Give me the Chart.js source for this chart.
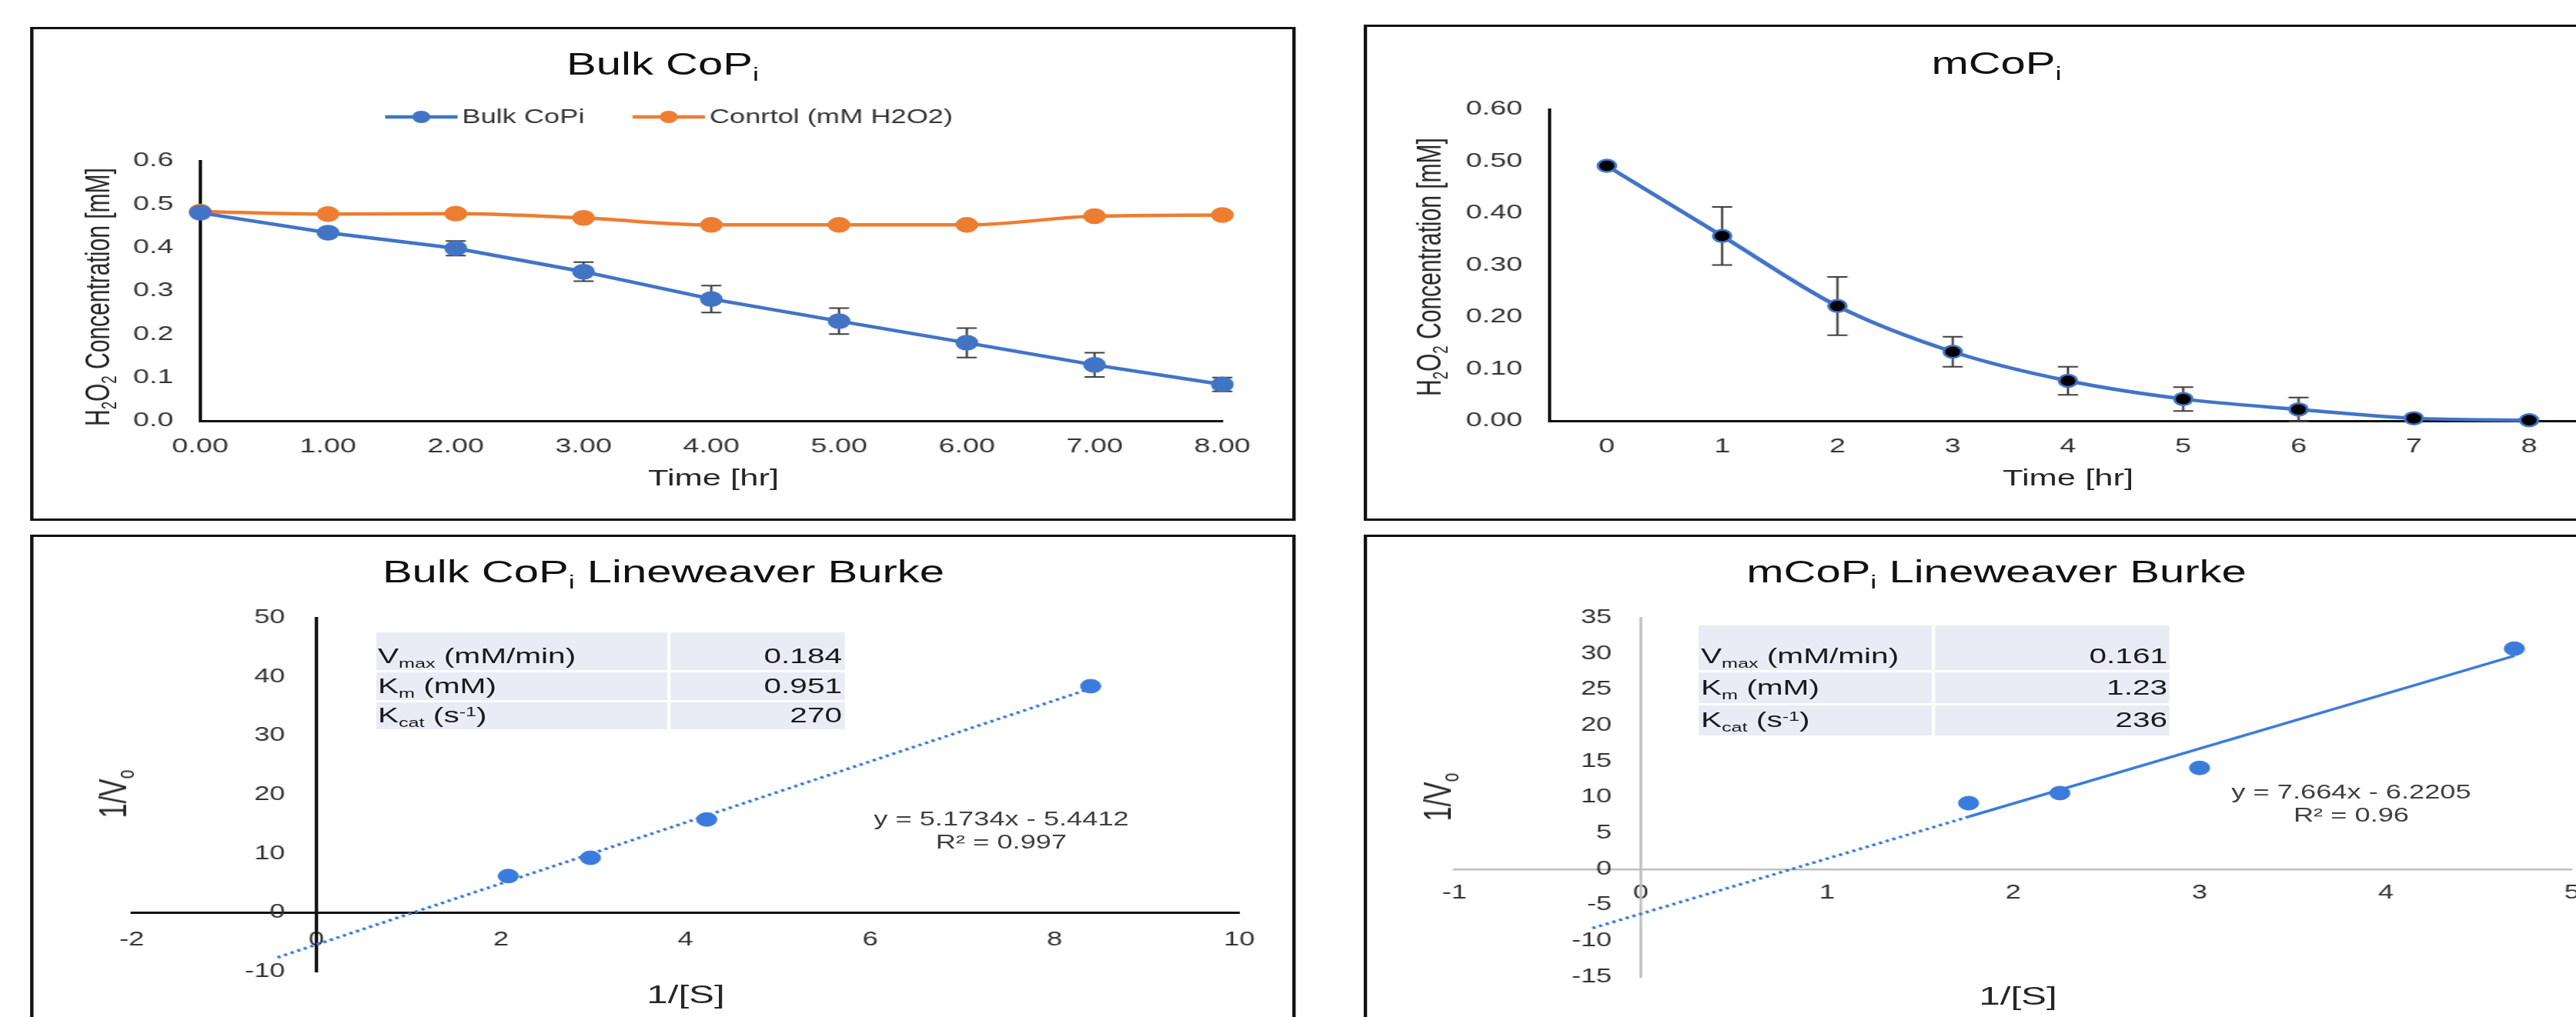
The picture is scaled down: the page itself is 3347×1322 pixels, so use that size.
<!DOCTYPE html>
<html lang="en">
<head>
<meta charset="UTF-8">
<title>CoPi H2O2 decomposition</title>
<script src="https://cdn.jsdelivr.net/npm/chart.js"></script>
<style>
  html, body { margin: 0; padding: 0; background: #fff; overflow: hidden; width: 3347px; height: 1322px; }
  #stage { position: absolute; left: 0; top: 0; height: 1322px; transform-origin: 0 0;
           font-family: 'Liberation Sans', Arial, sans-serif; color: #262626; }
  .panel { position: absolute; border: 3px solid #111; background: #fff; }
  .panel canvas { position: absolute; left: 0; top: 0; }
  .lbl { position: absolute; white-space: nowrap; line-height: 1; transform: translate(-50%, -50%); }
  .rot { transform: translate(-50%, -50%) rotate(-90deg); }
  .title { font-size: 40px; color: #111; }
  .axt { font-size: 30px; }
  .axt-lb { font-size: 34px; }
  .eq { font-size: 25px; color: #404040; text-align: center; line-height: 30px; }
  sub { font-size: 0.62em; line-height: 0; vertical-align: -0.32em; }
  sup { font-size: 0.62em; line-height: 0; vertical-align: 0.45em; }
  .kin { position: absolute; display: grid; column-gap: 3px; row-gap: 3px; font-size: 28px; color: #1a1a1a; }
  .cell { background: #e9ebf5; display: flex; align-items: center; padding: 0 2px; white-space: nowrap; line-height: 1; }
  .cell.first { align-items: flex-end; padding-bottom: 4px; }
  .cell.num { justify-content: flex-end; }
</style>
</head>
<body>
<div id="stage">
  <div id="panels"></div>

  <!-- titles -->
  <div class="lbl title" data-x="861" data-y="83">Bulk CoP<sub>i</sub></div>
  <div class="lbl title" data-x="2594" data-y="82">mCoP<sub>i</sub></div>
  <div class="lbl title" data-x="862" data-y="743">Bulk CoP<sub>i</sub> Lineweaver Burke</div>
  <div class="lbl title" data-x="2594" data-y="743">mCoP<sub>i</sub> Lineweaver Burke</div>

  <!-- axis titles -->
  <div class="lbl axt" data-x="927" data-y="621">Time [hr]</div>
  <div class="lbl axt" data-x="2687" data-y="621">Time [hr]</div>
  <div class="lbl axt rot" data-x="128" data-y="386">H<sub>2</sub>O<sub>2</sub> Concentration [mM]</div>
  <div class="lbl axt rot" data-x="1858" data-y="347">H<sub>2</sub>O<sub>2</sub> Concentration [mM]</div>
  <div class="lbl axt-lb" data-x="891" data-y="1292">1/[S]</div>
  <div class="lbl axt-lb" data-x="2622" data-y="1294">1/[S]</div>
  <div class="lbl axt-lb rot" data-x="146" data-y="1032">1/V<sub>o</sub></div>
  <div class="lbl axt-lb rot" data-x="1868" data-y="1036">1/V<sub>o</sub></div>

  <!-- trendline equations -->
  <div class="lbl eq" id="eqBulk" data-x="1301" data-y="1079"></div>
  <div class="lbl eq" id="eqM" data-x="3055" data-y="1044"></div>
</div>

<script>
  // horizontal stretch of the original picture
  const S = 1.45;
  const FONT = "'Liberation Sans', Arial, sans-serif";

  // ---- data ----
  const hours = [0, 1, 2, 3, 4, 5, 6, 7, 8];
  const bulkConc = [0.480, 0.434, 0.398, 0.344, 0.281, 0.230, 0.180, 0.129, 0.084];
  const bulkErr = [0, 0, 0.017, 0.022, 0.031, 0.030, 0.034, 0.028, 0.016];
  const controlConc = [0.483, 0.477, 0.478, 0.468, 0.452, 0.452, 0.452, 0.472, 0.475];

  const mHourLabels = ['0', '1', '2', '3', '4', '5', '6', '7', '8'];
  const mConc = [0.491, 0.356, 0.221, 0.133, 0.077, 0.042, 0.022, 0.005, 0.001];
  const mErr = [0, 0.056, 0.056, 0.029, 0.027, 0.023, 0.023, 0, 0];

  const bulkInvS = [2.08, 2.97, 4.23, 8.39];
  const bulkInvV = [6.2, 9.3, 15.8, 38.4];
  const bulkFitX = [-0.42, 8.39];
  const bulkFitY = [-7.6, 38.0];
  const bulkEquation = ['y = 5.1734x - 5.4412', 'R² = 0.997'];

  const mInvS = [1.76, 2.25, 3.0, 4.69];
  const mInvV = [9.2, 10.6, 14.1, 30.7];
  const mFitX = [1.76, 4.69];
  const mFitY = [7.3, 29.7];
  const mBackX = [-0.26, 1.76];
  const mBackY = [-8.2, 7.3];
  const mEquation = ['y = 7.664x - 6.2205', 'R² = 0.96'];

  const kinLabels = ['V<sub>max</sub> (mM/min)', 'K<sub>m</sub> (mM)', 'K<sub>cat</sub> (s<sup>-1</sup>)'];
  const bulkKin = ['0.184', '0.951', '270'];
  const mKin = ['0.161', '1.23', '236'];

  // ---- colours ----
  const LINE_BLUE = '#4274c6';
  const DOT_BLUE = '#3b7bdb';
  const ORANGE = '#ed7d31';
  const TICK = '#333333';

  // ---- layout, in pixels of the original picture ----
  const panels = {
    tl: { x: 39, y: 35, w: 1645, h: 642, area: { l: 260, t: 209, r: 1588, b: 547 } },
    tr: { x: 1772, y: 32, w: 1645, h: 645, area: { l: 2013, t: 142, r: 3361, b: 547 } },
    bl: { x: 39, y: 695, w: 1645, h: 642, area: { l: 171, t: 803, r: 1610, b: 1263 } },
    br: { x: 1772, y: 695, w: 1645, h: 642, area: { l: 1890, t: 803, r: 3342, b: 1270 } }
  };

  const stage = document.getElementById('stage');
  stage.style.width = (3347 / S) + 'px';
  stage.style.transform = 'scaleX(' + S + ')';

  document.querySelectorAll('.lbl').forEach(el => {
    el.style.left = (+el.dataset.x / S) + 'px';
    el.style.top = (+el.dataset.y) + 'px';
  });
  document.getElementById('eqBulk').innerHTML = bulkEquation.join('<br>');
  document.getElementById('eqM').innerHTML = mEquation.join('<br>');

  function makePanel(key) {
    const p = panels[key];
    const div = document.createElement('div');
    div.className = 'panel';
    div.style.left = (p.x / S) + 'px';
    div.style.top = p.y + 'px';
    div.style.width = (p.w / S - 6) + 'px';
    div.style.height = (p.h - 6) + 'px';
    const c = document.createElement('canvas');
    c.width = Math.round(p.w / S - 6);
    c.height = p.h - 6;
    div.appendChild(c);
    document.getElementById('panels').appendChild(div);
    p.cx = xr => (xr - p.x) / S - 3;
    p.cy = yr => yr - p.y - 3;
    p.canvas = c;
    return p;
  }

  function kinTable(box, values) {
    const t = document.createElement('div');
    t.className = 'kin';
    t.style.left = (box.l / S) + 'px';
    t.style.top = box.t + 'px';
    t.style.width = ((box.r - box.l) / S) + 'px';
    t.style.height = (box.b - box.t) + 'px';
    t.style.gridTemplateColumns = ((box.split - box.l) / S - 1.5) + 'px 1fr';
    t.style.gridTemplateRows = (box.rows[0] - box.t - 1.5) + 'px ' + (box.rows[1] - box.rows[0] - 3) + 'px 1fr';
    kinLabels.forEach((lab, i) => {
      const a = document.createElement('div');
      a.className = 'cell' + (i === 0 ? ' first' : '');
      a.innerHTML = '<span>' + lab + '</span>';
      const b = document.createElement('div');
      b.className = 'cell num' + (i === 0 ? ' first' : '');
      b.innerHTML = '<span>' + values[i] + '</span>';
      t.appendChild(a);
      t.appendChild(b);
    });
    stage.appendChild(t);
  }
  kinTable({ l: 488, r: 1097, split: 869, t: 822, rows: [872, 911], b: 948 }, bulkKin);
  kinTable({ l: 2207, r: 2819, split: 2512, t: 813, rows: [872, 915], b: 956 }, mKin);

  // vertical error bars, drawn under the lines and markers
  const errorBars = {
    id: 'errorBars',
    beforeDatasetsDraw(chart) {
      const ctx = chart.ctx;
      const yScale = chart.scales.y;
      chart.data.datasets.forEach((ds, i) => {
        if (!ds.errors) return;
        const meta = chart.getDatasetMeta(i);
        ctx.save();
        ctx.strokeStyle = '#404040';
        ctx.lineWidth = 2;
        meta.data.forEach((pt, j) => {
          const e = ds.errors[j];
          if (!e) return;
          const d = ds.data[j];
          const v = typeof d === 'object' ? d.y : d;
          const top = yScale.getPixelForValue(v + e);
          const bot = yScale.getPixelForValue(v - e);
          const cap = 9;
          ctx.beginPath();
          ctx.moveTo(pt.x, top); ctx.lineTo(pt.x, bot);
          ctx.moveTo(pt.x - cap, top); ctx.lineTo(pt.x + cap, top);
          ctx.moveTo(pt.x - cap, bot); ctx.lineTo(pt.x + cap, bot);
          ctx.stroke();
        });
        ctx.restore();
      });
    }
  };

  // excel style legend: short line with a marker, then the label
  const lineLegend = {
    id: 'lineLegend',
    afterDraw(chart, args, opts) {
      const ctx = chart.ctx;
      ctx.save();
      ctx.font = opts.size + 'px ' + FONT;
      const items = chart.data.datasets.map(ds => ({ ds, w: ctx.measureText(ds.label).width }));
      const total = items.reduce((a, it) => a + opts.sample + opts.gap + it.w, 0) + opts.itemGap * (items.length - 1);
      let x = opts.cx - total / 2;
      items.forEach(it => {
        const ds = it.ds;
        ctx.strokeStyle = ds.borderColor;
        ctx.lineWidth = ds.borderWidth;
        ctx.beginPath();
        ctx.moveTo(x, opts.y);
        ctx.lineTo(x + opts.sample, opts.y);
        ctx.stroke();
        ctx.fillStyle = ds.pointBackgroundColor;
        ctx.beginPath();
        ctx.arc(x + opts.sample / 2, opts.y, ds.pointRadius, 0, Math.PI * 2);
        ctx.fill();
        ctx.fillStyle = TICK;
        ctx.textAlign = 'left';
        ctx.textBaseline = 'middle';
        ctx.fillText(ds.label, x + opts.sample + opts.gap, opts.y + 1);
        x += opts.sample + opts.gap + it.w + opts.itemGap;
      });
      ctx.restore();
    }
  };

  // y tick labels that sit next to an axis crossing at x = 0
  const crossYLabels = {
    id: 'crossYLabels',
    afterDraw(chart, args, opts) {
      const { ctx, scales: { x, y } } = chart;
      const x0 = x.getPixelForValue(0);
      ctx.save();
      ctx.font = opts.size + 'px ' + FONT;
      ctx.fillStyle = TICK;
      ctx.textAlign = 'right';
      ctx.textBaseline = 'middle';
      y.ticks.forEach(t => ctx.fillText(t.label, x0 - opts.gap, y.getPixelForValue(t.value)));
      ctx.restore();
    }
  };

  function tickFont(size) {
    return { family: FONT, size: size };
  }

  // ---- Bulk CoPi time course ----
  const tl = makePanel('tl');
  new Chart(tl.canvas, {
    type: 'line',
    data: {
      datasets: [
        {
          label: 'Bulk CoPi',
          data: hours.map((h, i) => ({ x: h, y: bulkConc[i] })),
          errors: bulkErr,
          borderColor: LINE_BLUE, backgroundColor: LINE_BLUE,
          pointBackgroundColor: LINE_BLUE, pointBorderColor: LINE_BLUE,
          pointRadius: 8, borderWidth: 4.5, tension: 0, clip: false
        },
        {
          label: 'Conrtol (mM H2O2)',
          data: hours.map((h, i) => ({ x: h, y: controlConc[i] })),
          borderColor: ORANGE, backgroundColor: ORANGE,
          pointBackgroundColor: ORANGE, pointBorderColor: ORANGE,
          pointRadius: 8, borderWidth: 4.5, cubicInterpolationMode: 'monotone', clip: false
        }
      ]
    },
    options: {
      responsive: false,
      animation: false,
      layout: { padding: { top: tl.cy(tl.area.t), right: tl.canvas.width - tl.cx(tl.area.r), left: 0, bottom: 0 } },
      plugins: {
        legend: { display: false },
        tooltip: { enabled: false },
        lineLegend: { cx: tl.cx(869), y: tl.cy(152), size: 25, sample: 65, gap: 4, itemGap: 43 }
      },
      scales: {
        x: {
          type: 'linear', min: 0, max: 8,
          afterFit: s => { s.height = tl.canvas.height - tl.cy(tl.area.b); },
          grid: { display: false, drawTicks: false },
          border: { display: true, color: '#111', width: 3 },
          ticks: { stepSize: 1, padding: 18, color: TICK, font: tickFont(26), maxRotation: 0, autoSkip: false,
                   callback: v => v.toFixed(2) }
        },
        y: {
          min: 0, max: 0.6,
          afterFit: s => { s.width = tl.cx(tl.area.l); },
          grid: { display: false, drawTicks: false },
          border: { display: true, color: '#111', width: 3 },
          ticks: { stepSize: 0.1, padding: 24, color: TICK, font: tickFont(26), callback: v => v.toFixed(1) }
        }
      }
    },
    plugins: [errorBars, lineLegend]
  });

  // ---- mCoPi time course ----
  const tr = makePanel('tr');
  new Chart(tr.canvas, {
    type: 'line',
    data: {
      labels: mHourLabels,
      datasets: [{
        label: 'mCoPi',
        data: mConc,
        errors: mErr,
        borderColor: LINE_BLUE,
        pointBackgroundColor: '#000', pointBorderColor: LINE_BLUE, pointBorderWidth: 2.5,
        pointRadius: 8, borderWidth: 4.5, cubicInterpolationMode: 'monotone', clip: false
      }]
    },
    options: {
      responsive: false,
      animation: false,
      layout: { padding: { top: tr.cy(tr.area.t), right: tr.canvas.width - tr.cx(tr.area.r), left: 0, bottom: 0 } },
      plugins: { legend: { display: false }, tooltip: { enabled: false } },
      scales: {
        x: {
          type: 'category', offset: true,
          afterFit: s => { s.height = tr.canvas.height - tr.cy(tr.area.b); },
          grid: { display: false, drawTicks: false },
          border: { display: true, color: '#111', width: 3 },
          ticks: { padding: 18, color: TICK, font: tickFont(26), maxRotation: 0, autoSkip: false }
        },
        y: {
          min: 0, max: 0.6,
          afterFit: s => { s.width = tr.cx(tr.area.l); },
          grid: { display: false, drawTicks: false },
          border: { display: true, color: '#111', width: 3 },
          ticks: { stepSize: 0.1, padding: 24, color: TICK, font: tickFont(26), callback: v => v.toFixed(2) }
        }
      }
    },
    plugins: [errorBars]
  });

  // ---- Lineweaver Burke plots, axes crossing at the origin ----
  function crossPadding(p) {
    const a = p.area;
    return {
      left: p.cx(a.l), top: p.cy(a.t),
      right: p.canvas.width - p.cx(a.r), bottom: p.canvas.height - p.cy(a.b)
    };
  }

  function crossScales(xr, yr, axisColor, axisWidth, xPad) {
    return {
      x: {
        type: 'linear', min: xr[0], max: xr[1], position: { y: 0 },
        afterFit: s => { s.height = 0; },
        grid: { display: false, drawTicks: false },
        border: { display: true, color: axisColor, width: axisWidth },
        ticks: { stepSize: xr[2], padding: xPad, color: TICK, font: tickFont(25), maxRotation: 0, autoSkip: false }
      },
      y: {
        type: 'linear', min: yr[0], max: yr[1], position: { x: 0 },
        afterFit: s => { s.width = 0; },
        grid: { display: false, drawTicks: false },
        border: { display: true, color: axisColor, width: axisWidth },
        ticks: { stepSize: yr[2], display: false }
      }
    };
  }

  const bl = makePanel('bl');
  new Chart(bl.canvas, {
    type: 'scatter',
    data: {
      datasets: [
        {
          label: 'Bulk CoPi',
          data: bulkInvS.map((x, i) => ({ x: x, y: bulkInvV[i] })),
          backgroundColor: DOT_BLUE, borderColor: DOT_BLUE, pointRadius: 9, clip: false
        },
        {
          label: 'Linear fit',
          data: bulkFitX.map((x, i) => ({ x: x, y: bulkFitY[i] })),
          showLine: true, pointRadius: 0, borderColor: DOT_BLUE, borderWidth: 3.5,
          borderDash: [3, 3.5], clip: false
        }
      ]
    },
    options: {
      responsive: false,
      animation: false,
      layout: { padding: crossPadding(bl) },
      plugins: { legend: { display: false }, tooltip: { enabled: false }, crossYLabels: { gap: 28, size: 25 } },
      scales: crossScales([-2, 10, 2], [-10, 50, 10], '#111', 3, 21)
    },
    plugins: [crossYLabels]
  });

  const br = makePanel('br');
  new Chart(br.canvas, {
    type: 'scatter',
    data: {
      datasets: [
        {
          label: 'mCoPi',
          data: mInvS.map((x, i) => ({ x: x, y: mInvV[i] })),
          backgroundColor: DOT_BLUE, borderColor: DOT_BLUE, pointRadius: 9, clip: false
        },
        {
          label: 'Linear fit',
          data: mFitX.map((x, i) => ({ x: x, y: mFitY[i] })),
          showLine: true, pointRadius: 0, borderColor: DOT_BLUE, borderWidth: 3.5, clip: false
        },
        {
          label: 'Backward forecast',
          data: mBackX.map((x, i) => ({ x: x, y: mBackY[i] })),
          showLine: true, pointRadius: 0, borderColor: DOT_BLUE, borderWidth: 3.5,
          borderDash: [3, 3.5], clip: false
        }
      ]
    },
    options: {
      responsive: false,
      animation: false,
      layout: { padding: crossPadding(br) },
      plugins: { legend: { display: false }, tooltip: { enabled: false }, crossYLabels: { gap: 26, size: 25 } },
      scales: crossScales([-1, 5, 1], [-15, 35, 5], '#bfbfbf', 2.5, 16)
    },
    plugins: [crossYLabels]
  });
</script>
</body>
</html>
